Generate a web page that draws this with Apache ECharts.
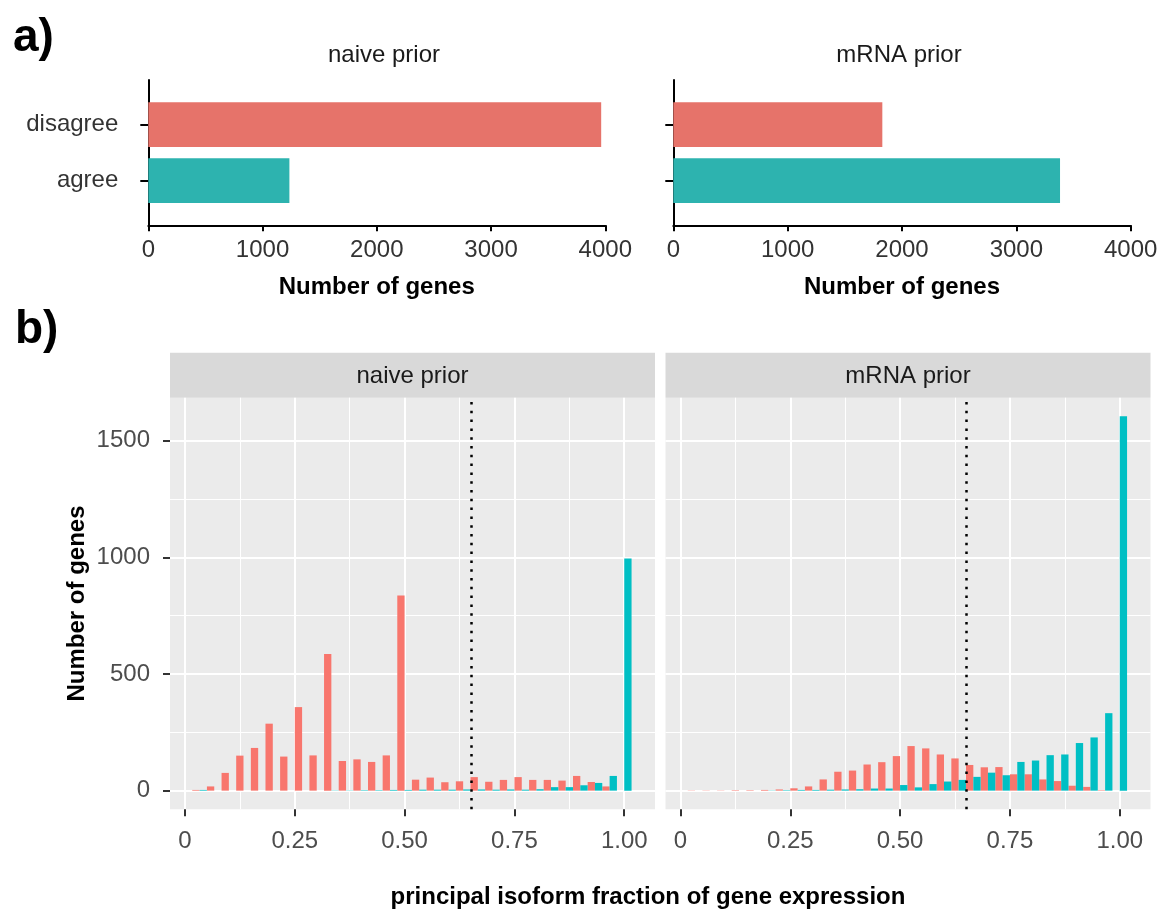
<!DOCTYPE html>
<html><head><meta charset="utf-8">
<script src="https://cdn.jsdelivr.net/npm/echarts@6/dist/echarts.min.js"></script>
<style>html,body{margin:0;padding:0;background:#fff}#c{width:1175px;height:912px}</style>
</head><body><div id="c"></div>
<script>
// ---------- data ----------
const aCategories = ['agree', 'disagree'];
const naiveCounts = [1235, 3964];   // agree, disagree
const mrnaCounts  = [3382, 1828];   // agree, disagree
const aPanelTitles = ['naive prior', 'mRNA prior'];

const binCenters = [0, 0.0333, 0.0667, 0.1, 0.1333, 0.1667, 0.2, 0.2333, 0.2667, 0.3,
  0.3333, 0.3667, 0.4, 0.4333, 0.4667, 0.5, 0.5333, 0.5667, 0.6, 0.6333,
  0.6667, 0.7, 0.7333, 0.7667, 0.8, 0.8333, 0.8667, 0.9, 0.9333, 0.9667, 1.0];
const naiveDisagree = [0,3,18,76,150,183,287,146,358,151,586,127,134,123,151,836,47,56,36,40,58,38,46,58,46,46,43,63,37,18,0];
const naiveAgree    = [0,3,0,0,0,0,0,0,0,0,1,1,2,2,3,3,4,4,4,5,5,4,5,4,6,15,15,23,33,63,995];
const mrnaDisagree  = [0,1,1,1,2,2,3,5,10,18,48,81,86,112,122,148,191,181,155,138,110,100,101,70,70,48,41,21,16,2,0];
const mrnaAgree     = [0,0,0,0,0,0,1,2,3,3,4,5,6,9,9,24,14,28,39,46,59,77,66,123,129,152,155,204,228,332,1604];

const xTickValues = [0, 0.25, 0.5, 0.75, 1];
const xTickLabels = ['0', '0.25', '0.50', '0.75', '1.00'];
const xMinorValues = [0.125, 0.375, 0.625, 0.875];
const yTickValues = [0, 500, 1000, 1500];
const yMinorValues = [250, 750, 1250];
const thresholdLine = 0.66;
const stripLabels = ['naive prior', 'mRNA prior'];

// ---------- style ----------
const FONT = '"Liberation Sans", Arial, Helvetica, sans-serif';
const A_COLORS = ['#2DB3AF', '#E6736A'];   // agree, disagree
const RED = '#F8766D', TEAL = '#00BFC4';

const gridsA = [
  {left: 148.3, top: 80, width: 457, height: 145.3},
  {left: 673.3, top: 80, width: 457.4, height: 145.3}
];
const gridsB = [
  {left: 170, top: 397.7, width: 485, height: 411.6, show: true, backgroundColor: '#EBEBEB', borderWidth: 0},
  {left: 665.5, top: 397.7, width: 485, height: 411.6, show: true, backgroundColor: '#EBEBEB', borderWidth: 0}
];

function aXAxis(gi) {
  return {
    gridIndex: gi, type: 'value', min: 0, max: 4000, interval: 1000,
    axisLine: {show: true, onZero: false, lineStyle: {color: '#000', width: 2}},
    axisTick: {show: true, length: 6, lineStyle: {color: '#000', width: 2}},
    axisLabel: {fontSize: 24, color: '#333', margin: 13, fontFamily: FONT, formatter: v => String(v)},
    splitLine: {show: false},
    name: 'Number of genes', nameLocation: 'middle', nameGap: 50,
    nameTextStyle: {fontSize: 24, fontWeight: 'bold', color: '#000', fontFamily: FONT}
  };
}
function aYAxis(gi, showLabels) {
  return {
    gridIndex: gi, type: 'value', min: -0.8, max: 1.8,
    axisLine: {show: true, onZero: false, lineStyle: {color: '#000', width: 2}},
    axisTick: {show: true, length: 8, customValues: [0, 1], lineStyle: {color: '#000', width: 2}},
    axisLabel: {show: showLabels, customValues: [0, 1], fontSize: 24, color: '#333', margin: 30,
      fontFamily: FONT, formatter: v => aCategories[Math.round(v)]},
    splitLine: {show: false}
  };
}
function bXMajor(gi) {
  return {
    gridIndex: gi, type: 'value', min: -0.034, max: 1.07,
    axisLine: {show: false, onZero: false},
    axisTick: {show: true, length: 7, customValues: xTickValues, lineStyle: {color: '#333', width: 2}},
    axisLabel: {customValues: xTickValues, fontSize: 24, color: '#4D4D4D', margin: 20, fontFamily: FONT,
      formatter: v => { const i = xTickValues.findIndex(t => Math.abs(t - v) < 1e-9); return i >= 0 ? xTickLabels[i] : ''; }},
    splitLine: {show: true, lineStyle: {color: '#fff', width: 2}}
  };
}
function bXMinor(gi) {
  return {
    gridIndex: gi, type: 'value', min: -0.034, max: 1.07, position: 'top',
    axisLine: {show: false, onZero: false},
    axisTick: {show: false, customValues: xMinorValues},
    axisLabel: {show: false},
    splitLine: {show: true, lineStyle: {color: '#fff', width: 1}}
  };
}
function bYMajor(gi, showLabels) {
  const ax = {
    gridIndex: gi, type: 'value', min: -80, max: 1684,
    axisLine: {show: false, onZero: false},
    axisTick: {show: showLabels, length: 7, customValues: yTickValues, lineStyle: {color: '#333', width: 2}},
    axisLabel: {show: showLabels, customValues: yTickValues, fontSize: 24, color: '#4D4D4D', margin: 20,
      fontFamily: FONT, formatter: v => String(v)},
    splitLine: {show: true, lineStyle: {color: '#fff', width: 2}}
  };
  if (showLabels) {
    ax.name = 'Number of genes';
    ax.nameLocation = 'middle';
    ax.nameGap = 81;
    ax.nameTextStyle = {fontSize: 24, fontWeight: 'bold', color: '#000', fontFamily: FONT};
  }
  return ax;
}
function bYMinor(gi) {
  return {
    gridIndex: gi, type: 'value', min: -80, max: 1684, position: 'right',
    axisLine: {show: false, onZero: false},
    axisTick: {show: false, customValues: yMinorValues},
    axisLabel: {show: false},
    splitLine: {show: true, lineStyle: {color: '#fff', width: 1}}
  };
}

function hbar(params, api) {
  const v = api.value(0), y = api.value(1);
  const p0 = api.coord([0, y]);
  const p1 = api.coord([v, y]);
  const h = api.size([0, 0.8])[1];
  return {type: 'rect', shape: {x: p0[0], y: p0[1] - h / 2, width: p1[0] - p0[0], height: h},
    style: {fill: A_COLORS[Math.round(y)]}};
}

function histSeries(xi, yi, values, color, withLine) {
  const s = {
    type: 'bar', xAxisIndex: xi, yAxisIndex: yi,
    data: binCenters.map((c, i) => [c, values[i]]),
    itemStyle: {color: color},
    barGap: '0%', barCategoryGap: '0%'
  };
  if (withLine) {
    s.markLine = {
      silent: true, symbol: ['none', 'none'], label: {show: false},
      lineStyle: {color: '#000', type: [2.5, 6.3], width: 2.5, cap: 'butt'},
      data: [{xAxis: thresholdLine}]
    };
  }
  return s;
}

function txt(x, y, text, size, bold, align, color) {
  return {type: 'text', x: x, y: y, silent: true,
    style: {text: text, fontSize: size, fontWeight: bold ? 'bold' : 'normal', fontFamily: FONT,
      fill: color || '#000', align: align || 'center', verticalAlign: 'middle',
      textAlign: align || 'center', textVerticalAlign: 'middle'}};
}

const option = {
  backgroundColor: '#fff',
  animation: false,
  textStyle: {fontFamily: FONT},
  grid: gridsA.concat(gridsB),
  xAxis: [aXAxis(0), aXAxis(1), bXMajor(2), bXMinor(2), bXMajor(3), bXMinor(3)],
  yAxis: [aYAxis(0, true), aYAxis(1, false), bYMajor(2, true), bYMinor(2), bYMajor(3, false), bYMinor(3)],
  series: [
    {type: 'custom', xAxisIndex: 0, yAxisIndex: 0, renderItem: hbar, encode: {x: 0, y: 1},
      data: naiveCounts.map((v, i) => [v, i])},
    {type: 'custom', xAxisIndex: 1, yAxisIndex: 1, renderItem: hbar, encode: {x: 0, y: 1},
      data: mrnaCounts.map((v, i) => [v, i])},
    histSeries(2, 2, naiveDisagree, RED, true),
    histSeries(2, 2, naiveAgree, TEAL, false),
    histSeries(4, 4, mrnaDisagree, RED, true),
    histSeries(4, 4, mrnaAgree, TEAL, false)
  ],
  graphic: [
    {type: 'rect', silent: true, shape: {x: 170, y: 352.7, width: 485, height: 45}, style: {fill: '#D9D9D9'}},
    {type: 'rect', silent: true, shape: {x: 665.5, y: 352.7, width: 485, height: 45}, style: {fill: '#D9D9D9'}},
    txt(412.5, 376, stripLabels[0], 24, false, 'center', '#1A1A1A'),
    txt(908, 376, stripLabels[1], 24, false, 'center', '#1A1A1A'),
    txt(13, 38, 'a)', 46, true, 'left'),
    txt(15, 330, 'b)', 46, true, 'left'),
    txt(384, 55, aPanelTitles[0], 24, false, 'center', '#1A1A1A'),
    txt(899, 55, aPanelTitles[1], 24, false, 'center', '#1A1A1A'),
    txt(648, 897, 'principal isoform fraction of gene expression', 24, true, 'center')
  ]
};

const chart = echarts.init(document.getElementById('c'), null, {renderer: 'canvas'});
chart.setOption(option);
</script></body></html>
